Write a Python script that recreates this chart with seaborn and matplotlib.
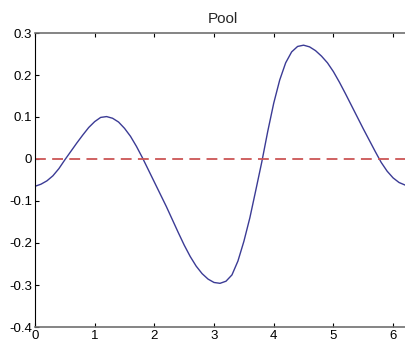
"""
Pool - 曲线重绘
"""
import matplotlib
matplotlib.use("Agg")
import matplotlib.pyplot as plt
import numpy as np
import pandas as pd
import seaborn as sns

# 数据点
x_vals = [0.0, 0.1, 0.2, 0.3, 0.4, 0.5, 0.6, 0.7, 0.8, 0.9, 1.0, 1.1, 1.2, 1.3,
          1.4, 1.5, 1.6, 1.7, 1.8, 1.9, 2.0, 2.1, 2.2, 2.3, 2.4, 2.5, 2.6, 2.7,
          2.8, 2.9, 3.0, 3.1, 3.2, 3.3, 3.4, 3.5, 3.6, 3.7, 3.8, 3.9, 4.0, 4.1,
          4.2, 4.3, 4.4, 4.5, 4.6, 4.7, 4.8, 4.9, 5.0, 5.1, 5.2, 5.3, 5.4, 5.5,
          5.6, 5.7, 5.8, 5.9, 6.0, 6.1, 6.2, 6.2832]
y_vals = [-0.065, -0.060, -0.052, -0.040, -0.023, -0.002, 0.018, 0.038, 0.057,
          0.075, 0.089, 0.099, 0.101, 0.097, 0.088, 0.073, 0.054, 0.030, 0.003,
          -0.026, -0.055, -0.084, -0.113, -0.144, -0.175, -0.205, -0.232, -0.255,
          -0.273, -0.286, -0.294, -0.296, -0.291, -0.276, -0.243, -0.196, -0.140,
          -0.074, -0.007, 0.066, 0.133, 0.188, 0.229, 0.255, 0.268, 0.271, 0.267,
          0.258, 0.245, 0.229, 0.208, 0.183, 0.156, 0.128, 0.100, 0.072, 0.045,
          0.018, -0.008, -0.029, -0.045, -0.056, -0.062, -0.065]
baseline = 0.0
x_ticks = [0, 1, 2, 3, 4, 5, 6]
y_ticks = [-0.4, -0.3, -0.2, -0.1, 0, 0.1, 0.2, 0.3]
y_ticklabels = ["-0.4", "-0.3", "-0.2", "-0.1", "0", "0.1", "0.2", "0.3"]

sns.set_theme(style="white")
plt.rcParams["font.family"] = ["Liberation Sans", "DejaVu Sans"]

df = pd.DataFrame({"x": x_vals, "y": y_vals})

fig = plt.figure(figsize=(4.06, 3.43), dpi=100)
ax = fig.add_axes([35 / 406, 16 / 343, 375 / 406, 294 / 343])

sns.lineplot(data=df, x="x", y="y", ax=ax, color="#3b3b95", linewidth=1.0,
             sort=False)
ax.axhline(baseline, color="#cc5555", linestyle=(0, (6, 3.5)), linewidth=1.3)

ax.set_xlim(0, 2 * np.pi)
ax.set_ylim(-0.4, 0.3)
ax.set_xticks(x_ticks)
ax.set_yticks(y_ticks)
ax.set_yticklabels(y_ticklabels)
ax.set_xlabel("")
ax.set_ylabel("")
ax.set_title("Pool", fontsize=11, pad=7)

ax.tick_params(direction="in", length=3, width=0.8, labelsize=9.5, pad=2,
               top=True, bottom=True, left=True, right=True, colors="black")
for side in ["top", "bottom"]:
    ax.spines[side].set_color("#707070")
    ax.spines[side].set_linewidth(1.2)
ax.spines["left"].set_color("black")
ax.spines["left"].set_linewidth(0.8)
ax.spines["right"].set_color("black")

plt.savefig("out.png", dpi=100)
